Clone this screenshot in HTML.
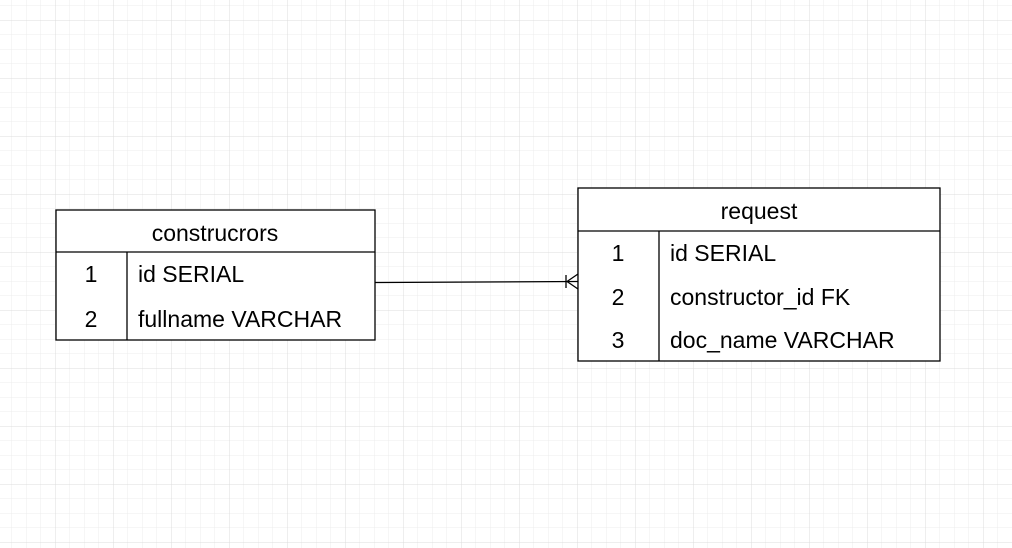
<!DOCTYPE html>
<html><head><style>
html,body{margin:0;padding:0;background:#fff;}
svg{display:block;}
text{font-family:"Liberation Sans",Arial,sans-serif;font-size:23px;fill:#000;}
</style></head><body>
<svg width="1012" height="548" xmlns="http://www.w3.org/2000/svg">
<defs>
<pattern id="mn" x="11.5" y="5.5" width="14.5" height="14.5" patternUnits="userSpaceOnUse">
<path d="M0 0V14.5M0 0H14.5" stroke="#ececec" stroke-width="1" fill="none"/>
</pattern>
<pattern id="mj" x="-3" y="20" width="58" height="58" patternUnits="userSpaceOnUse">
<path d="M0 0V58M0 0H58" stroke="#dcdcdc" stroke-width="1" fill="none"/>
</pattern>
</defs>
<rect width="1012" height="548" fill="url(#mn)"/>
<rect width="1012" height="548" fill="url(#mj)"/>

<g stroke="#000" stroke-width="1.3" fill="#fff">
<rect x="56" y="210" width="319" height="130"/>
<line x1="56" y1="252" x2="375" y2="252"/>
<line x1="127" y1="252" x2="127" y2="340"/>
<rect x="578" y="188" width="362" height="173"/>
<line x1="578" y1="231" x2="940" y2="231"/>
<line x1="659" y1="231" x2="659" y2="361"/>
</g>
<g stroke="#000" stroke-width="1.3" fill="none">
<path d="M375 282.5 L578 281.5"/>
<path d="M566 275V288"/>
<path d="M567 281.5 L578 274 M567 281.5 L578 289"/>
</g>

<text x="215" y="241" text-anchor="middle">construcrors</text>
<text x="91" y="282" text-anchor="middle">1</text>
<text x="138" y="282">id SERIAL</text>
<text x="91" y="327" text-anchor="middle">2</text>
<text x="138" y="327">fullname VARCHAR</text>

<text x="759" y="219" text-anchor="middle">request</text>
<text x="618" y="261" text-anchor="middle">1</text>
<text x="670" y="261">id SERIAL</text>
<text x="618" y="305" text-anchor="middle">2</text>
<text x="670" y="305">constructor_id FK</text>
<text x="618" y="348" text-anchor="middle">3</text>
<text x="670" y="348">doc_name VARCHAR</text>
</svg>
</body></html>
